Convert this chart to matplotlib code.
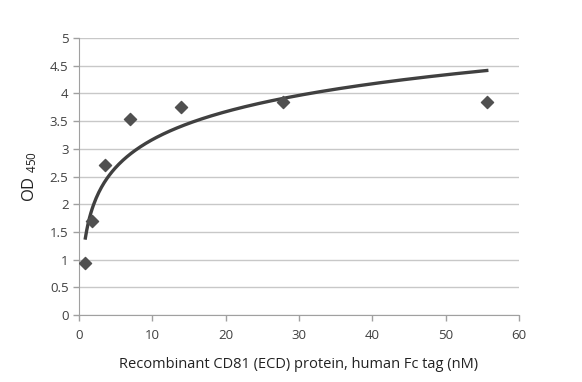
import numpy as np
import matplotlib
matplotlib.use("Agg")
from matplotlib import pyplot as plt

# concentration (nM) and OD450 readings
conc = [0.87, 1.74, 3.48, 6.96, 13.9, 27.8, 55.6]
od450 = [0.93, 1.70, 2.70, 3.53, 3.75, 3.85, 3.85]

x_ticks = [0, 10, 20, 30, 40, 50, 60]
y_ticks = [0, 0.5, 1, 1.5, 2, 2.5, 3, 3.5, 4, 4.5, 5]
y_tick_labels = ['0', '0.5', '1', '1.5', '2', '2.5', '3', '3.5', '4', '4.5', '5']

plt.rcParams['font.family'] = ['Open Sans', 'DejaVu Sans']
plt.rcParams['mathtext.fontset'] = 'custom'
plt.rcParams['mathtext.rm'] = 'Open Sans'
plt.rcParams['mathtext.default'] = 'regular'

fig = plt.figure(figsize=(5.82, 3.82), dpi=100)
ax = fig.add_axes([0.1357, 0.1754, 0.7561, 0.7251])

# logarithmic trendline (least squares on ln x)
a, b = np.polyfit(np.log(conc), od450, 1)
xs = np.linspace(min(conc), max(conc), 300)
ax.plot(xs, a * np.log(xs) + b, color='#404040', lw=2.4, zorder=3)

ax.scatter(conc, od450, marker='D', s=38, color='#505050', zorder=4)

ax.set_xlim(0, 60)
ax.set_ylim(0, 5)
ax.set_xticks(x_ticks)
ax.set_yticks(y_ticks)
ax.set_yticklabels(y_tick_labels)
ax.grid(axis='y', color='#c8c8c8', lw=1)
ax.set_axisbelow(True)

for side in ['top', 'right']:
    ax.spines[side].set_visible(False)
for side in ['left', 'bottom']:
    ax.spines[side].set_color('#a0a0a0')
ax.tick_params(colors='#a0a0a0', labelcolor='#404040', labelsize=9.5, length=4, width=1)
ax.tick_params(axis='x', pad=6)

ax.set_xlabel('Recombinant CD81 (ECD) protein, human Fc tag (nM)', fontsize=10.5,
              color='#222222', labelpad=11)
ax.set_ylabel('OD $_{450}$', fontsize=12, color='#222222', labelpad=8)

fig.savefig('out.png', dpi=100)
plt.close(fig)
